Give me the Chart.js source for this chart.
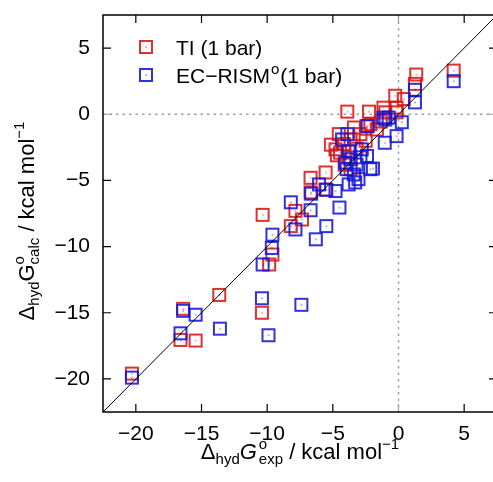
<!DOCTYPE html>
<html>
<head>
<meta charset="utf-8">
<script src="https://cdn.jsdelivr.net/npm/chart.js@4.4.0/dist/chart.umd.min.js"></script>
<style>
html, body { margin: 0; padding: 0; background: #fff; overflow: hidden; }
#wrap { width: 493px; height: 482px; overflow: hidden; }
</style>
</head>
<body>
<div id="wrap"><canvas id="chartData" width="502" height="482" style="width:502px;height:482px"></canvas></div>
<script>
// hydration free energies, kcal/mol (experiment vs calculation)
let tiExp = [4.2, 1.35, 1.25, 0.4, -0.25, -0.15, -0.15, -1.15, -1.0, -2.25, -3.9, -3.4, -2.15, -2.45,
    -4.8, -3.65, -2.5, -5.55, -6.7, -6.7, -10.35, -7.85, -7.35, -8.2, -9.6, -9.85, -20.3, -16.4,
    -13.65, -16.6, -15.45, -10.4, -5.55, -4.55, -4.15, -4.45, -3.8, -3.2, -2.9, -1.65, -1.35, -4.1,
    -3.65, -5.15, -4.7];
let tiCalc = [3.3, 3.0, 2.3, 1.15, 1.4, 0.5, 0.15, 0.5, 0.15, 0.2, 0.2, -1.0, -0.75, -0.9,
    -2.65, -1.9, -2.0, -4.4, -4.8, -5.9, -7.6, -7.3, -7.95, -8.45, -10.6, -11.35, -19.6, -14.7,
    -13.65, -17.05, -17.1, -15.0, -5.7, -1.5, -2.25, -2.9, -3.25, -2.6, -1.5, -1.15, -0.55, -3.8,
    -4.15, -2.3, -3.1];
let ecExp = [4.2, 1.25, 1.25, 0.25, -0.15, -1.05, -1.95, -0.75, -1.0, -2.35, -3.9, -4.3, -2.4, -3.3,
    -4.5, -5.5, -6.3, -6.7, -5.5, -4.8, -8.2, -7.85, -9.6, -9.65, -10.35, -20.3, -16.4, -15.45,
    -16.6, -13.6, -10.4, -9.9, -7.4, -2.15, -3.05, -4.05, -6.65, -3.8, -3.65, -3.95, -3.4, -3.8,
    -3.2, -2.9, -6.05, -1.15, -2.8];
let ecCalc = [2.5, 1.85, 0.9, -0.6, -1.65, -2.15, -4.1, -0.25, -0.4, -0.9, -1.5, -1.9, -3.15, -5.15,
    -7.05, -8.45, -9.45, -7.25, -5.7, -5.8, -6.65, -8.7, -9.1, -10.1, -11.35, -19.9, -14.85, -15.15,
    -16.55, -16.2, -13.9, -16.7, -14.4, -4.15, -4.9, -3.65, -6.0, -2.8, -3.4, -4.15, -4.55, -5.3,
    -3.8, -3.25, -5.3, -0.25, -2.65];
let xTicks = [-20, -15, -10, -5, 0, 5];
let yTicks = [-20, -15, -10, -5, 0, 5];
let axisRange = [-22.5, 7.5];
let seriesNames = ["TI (1 bar)", "EC\u2212RISM"];
let redColor = "rgba(218,20,20,0.88)";
let blueColor = "rgba(20,20,218,0.88)";

function makeMarker(color) {
    let c = document.createElement("canvas");
    c.width = 16; c.height = 16;
    let g = c.getContext("2d");
    g.strokeStyle = color;
    g.lineWidth = 2;
    g.strokeRect(2, 2, 12, 12);
    g.fillStyle = color;
    g.fillRect(7.5, 7.5, 1.2, 1.2);
    return c;
}
let redMarker = makeMarker(redColor);
let blueMarker = makeMarker(blueColor);

function toPoints(xs, ys) {
    return xs.map((v, i) => ({ x: v, y: ys[i] }));
}

function fmt(v) {
    return v < 0 ? "\u2212" + Math.abs(v) : String(v);
}

const FONT = '"Liberation Sans", Arial, sans-serif';

// draw text made of pieces with sub/superscripts; stack=true puts piece at same x as previous one
function richText(ctx, parts, x, y) {
    let total = 0, start = 0;
    for (const p of parts) {
        ctx.font = (p.italic ? "italic " : "") + p.size + "px " + FONT;
        let w = ctx.measureText(p.t).width + (p.gap || 0);
        let px = p.stack ? start : total;
        start = px;
        total = Math.max(total, px + w);
    }
    let cur = x - total / 2;
    start = cur;
    for (const p of parts) {
        ctx.font = (p.italic ? "italic " : "") + p.size + "px " + FONT;
        let w = ctx.measureText(p.t).width + (p.gap || 0);
        let px = p.stack ? start : cur;
        ctx.fillText(p.t, px, y + (p.dy || 0));
        start = px;
        cur = Math.max(cur, px + w);
    }
}

const framePlugin = {
    id: "frame",
    beforeDatasetsDraw(chart) {
        const { ctx, chartArea: a, scales: { x, y } } = chart;
        ctx.save();
        ctx.strokeStyle = "#a0a0a0";
        ctx.lineWidth = 1.5;
        ctx.setLineDash([2.5, 4]);
        let x0 = x.getPixelForValue(0), y0 = y.getPixelForValue(0);
        ctx.beginPath();
        ctx.moveTo(x0, a.top); ctx.lineTo(x0, a.bottom);
        ctx.moveTo(a.left, y0); ctx.lineTo(a.right, y0);
        ctx.stroke();
        ctx.restore();
    },
    afterDraw(chart) {
        const { ctx, chartArea: a, scales: { x, y } } = chart;
        ctx.save();
        // inward ticks
        ctx.lineWidth = 1.2;
        for (const v of xTicks) {
            let p = x.getPixelForValue(v);
            ctx.strokeStyle = v === 0 ? "#a0a0a0" : "#000";
            ctx.beginPath();
            ctx.moveTo(p, a.bottom); ctx.lineTo(p, a.bottom - 8);
            ctx.moveTo(p, a.top); ctx.lineTo(p, a.top + 8);
            ctx.stroke();
        }
        for (const v of yTicks) {
            let p = y.getPixelForValue(v);
            ctx.strokeStyle = v === 0 ? "#a0a0a0" : "#000";
            ctx.beginPath();
            ctx.moveTo(a.left, p); ctx.lineTo(a.left + 8, p);
            ctx.moveTo(a.right, p); ctx.lineTo(a.right - 8, p);
            ctx.stroke();
        }
        ctx.strokeStyle = "#000";
        ctx.lineWidth = 1.5;
        ctx.strokeRect(a.left, a.top, a.right - a.left, a.bottom - a.top);

        // legend
        ctx.fillStyle = "#000";
        ctx.textAlign = "left";
        ctx.textBaseline = "alphabetic";
        ctx.drawImage(redMarker, 146 - 8, 47 - 8);
        ctx.drawImage(blueMarker, 146 - 8, 75 - 8);
        ctx.font = "21px " + FONT;
        ctx.fillText(seriesNames[0], 176, 55);
        let w1 = ctx.measureText(seriesNames[1]).width;
        ctx.fillText(seriesNames[1], 176, 83);
        ctx.font = "15px " + FONT;
        ctx.fillText("o", 176 + w1 + 1, 74);
        let w2 = ctx.measureText("o").width;
        ctx.font = "21px " + FONT;
        ctx.fillText("(1 bar)", 176 + w1 + w2 + 2, 83);

        // axis titles
        richText(ctx, [
            { t: "\u0394", size: 22 },
            { t: "hyd", size: 15, dy: 5 },
            { t: "G", size: 22, italic: true, gap: 2 },
            { t: "o", size: 15, dy: -10 },
            { t: "exp", size: 15, dy: 5, stack: true },
            { t: " / kcal mol", size: 22 },
            { t: "\u22121", size: 15, dy: -10 }
        ], 300, 459);

        ctx.translate(34, 221);
        ctx.rotate(-Math.PI / 2);
        richText(ctx, [
            { t: "\u0394", size: 22 },
            { t: "hyd", size: 15, dy: 5 },
            { t: "G", size: 22 },
            { t: "o", size: 15, dy: -10 },
            { t: "calc", size: 15, dy: 5, stack: true },
            { t: " / kcal mol", size: 22 },
            { t: "\u22121", size: 15, dy: -10 }
        ], 0, 0);
        ctx.restore();
    }
};

const ctx = document.getElementById("chartData").getContext("2d");
let myChart = new Chart(ctx, {
    type: "scatter",
    data: {
        datasets: [
            {
                label: "diagonal",
                data: toPoints(axisRange, axisRange),
                showLine: true,
                borderColor: "#000",
                borderWidth: 1,
                pointRadius: 0,
                order: 0
            },
            {
                label: seriesNames[1],
                data: toPoints(ecExp, ecCalc),
                pointStyle: blueMarker,
                order: 1
            },
            {
                label: seriesNames[0],
                data: toPoints(tiExp, tiCalc),
                pointStyle: redMarker,
                order: 2
            }
        ]
    },
    options: {
        responsive: false,
        animation: false,
        devicePixelRatio: 1,
        layout: { padding: { left: 0, top: 15, right: 2, bottom: 0 } },
        plugins: { legend: { display: false }, tooltip: { enabled: false } },
        scales: {
            x: {
                type: "linear",
                min: axisRange[0],
                max: axisRange[1],
                afterBuildTicks: s => { s.ticks = xTicks.map(v => ({ value: v })); },
                afterFit: s => { s.height = 70; s.paddingLeft = 0; s.paddingRight = 0; },
                grid: { display: false, drawTicks: false },
                border: { display: false },
                ticks: {
                    padding: 10,
                    color: "#000",
                    font: { family: FONT, size: 21 },
                    maxRotation: 0,
                    callback: v => fmt(v)
                }
            },
            y: {
                type: "linear",
                min: axisRange[0],
                max: axisRange[1],
                afterBuildTicks: s => { s.ticks = yTicks.map(v => ({ value: v })); },
                afterFit: s => { s.width = 103; s.paddingTop = 0; s.paddingBottom = 0; },
                grid: { display: false, drawTicks: false },
                border: { display: false },
                ticks: {
                    padding: 13,
                    color: "#000",
                    font: { family: FONT, size: 21 },
                    callback: v => fmt(v)
                }
            }
        }
    },
    plugins: [framePlugin]
});
</script>
</body>
</html>
